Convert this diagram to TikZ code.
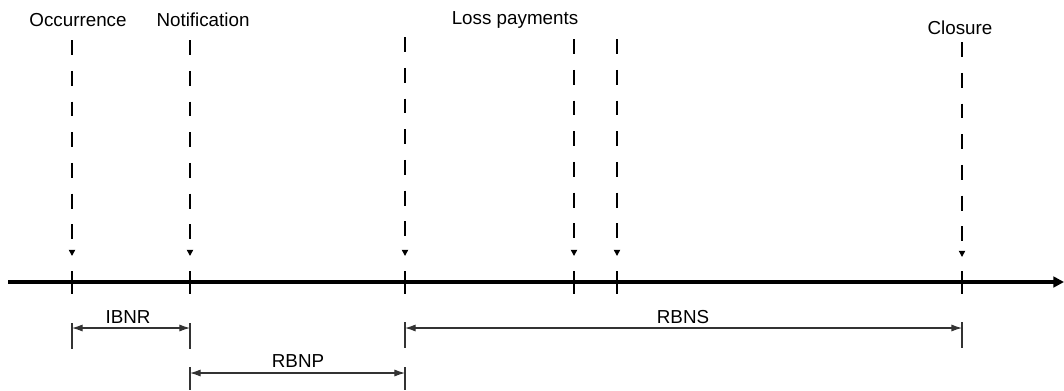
\documentclass[tikz,border=0pt]{standalone}
\usepackage{fontspec}
\setmainfont{Liberation Sans}
\usetikzlibrary{arrows.meta}
\begin{document}
\begin{tikzpicture}[x=0.02cm, y=-0.02cm, font=\fontsize{10.7}{13}\selectfont,
  event/.style = {inner sep=0pt, anchor=center},
  guide/.style = {line width=0.8pt, dash pattern=on 8.5pt off 9pt, -{Triangle[width=3.5pt,length=3.5pt]}},
  tick/.style = {line width=0.8pt},
  bar/.style = {line width=0.6pt, black!80},
  span/.style = {line width=0.6pt, black!80, {Latex[length=6pt,width=4pt]}-{Latex[length=6pt,width=4pt]}}]
\useasboundingbox (0,0) rectangle (1064,390);
% time axis
\coordinate (s) at (8,282);
\coordinate (e) at (1064,282);
\draw[line width=2.2pt, -{Triangle[length=6pt,width=6pt]}] (s) -- (e);
% events
\node[event] (occ) at (78,20) {Occurrence};
\node[event] (not) at (203,20) {Notification};
\node[event] (loss) at (515,20) {Loss payments};
\node[event] (clo) at (960,28) {Closure};
\coordinate (t1) at (72,40);  \coordinate (a1) at (72,256);
\coordinate (t2) at (190,40); \coordinate (a2) at (190,256);
\coordinate (t3) at (405,37); \coordinate (a3) at (405,256);
\coordinate (t4) at (574,39); \coordinate (a4) at (574,256);
\coordinate (t5) at (617,39); \coordinate (a5) at (617,256);
\coordinate (t6) at (962,42); \coordinate (a6) at (962,257);
\foreach \i in {1,...,6} {
  \draw[guide] (t\i) -- (a\i);
}
% ticks on axis
\foreach \i/\x in {1/72,2/190,3/405,4/574,5/617,6/962} {
  \coordinate (u\i) at (\x,271);
  \coordinate (d\i) at (\x,294);
  \draw[tick] (u\i) -- (d\i);
}
% bars under the axis
\coordinate (b1t) at (72,323);  \coordinate (b1b) at (72,349);
\coordinate (b2t) at (190,323); \coordinate (b2b) at (190,349);
\coordinate (b3t) at (405,322); \coordinate (b3b) at (405,348);
\coordinate (b6t) at (962,322); \coordinate (b6b) at (962,348);
\coordinate (c2t) at (190,367); \coordinate (c2b) at (190,390);
\coordinate (c3t) at (405,367); \coordinate (c3b) at (405,390);
\foreach \p in {b1,b2,b3,b6,c2,c3} {
  \draw[bar] (\p t) -- (\p b);
}
% spans
\coordinate (i1) at (72,328);  \coordinate (i2) at (190,328);
\coordinate (r1) at (405,328); \coordinate (r2) at (962,328);
\coordinate (p1) at (190,373); \coordinate (p2) at (405,373);
\draw[span] (i1) -- (i2);
\draw[span] (r1) -- (r2);
\draw[span] (p1) -- (p2);
\node[event] (ibnr) at (128,317) {IBNR};
\node[event] (rbns) at (683,317) {RBNS};
\node[event] (rbnp) at (298,361) {RBNP};
\end{tikzpicture}
\end{document}
